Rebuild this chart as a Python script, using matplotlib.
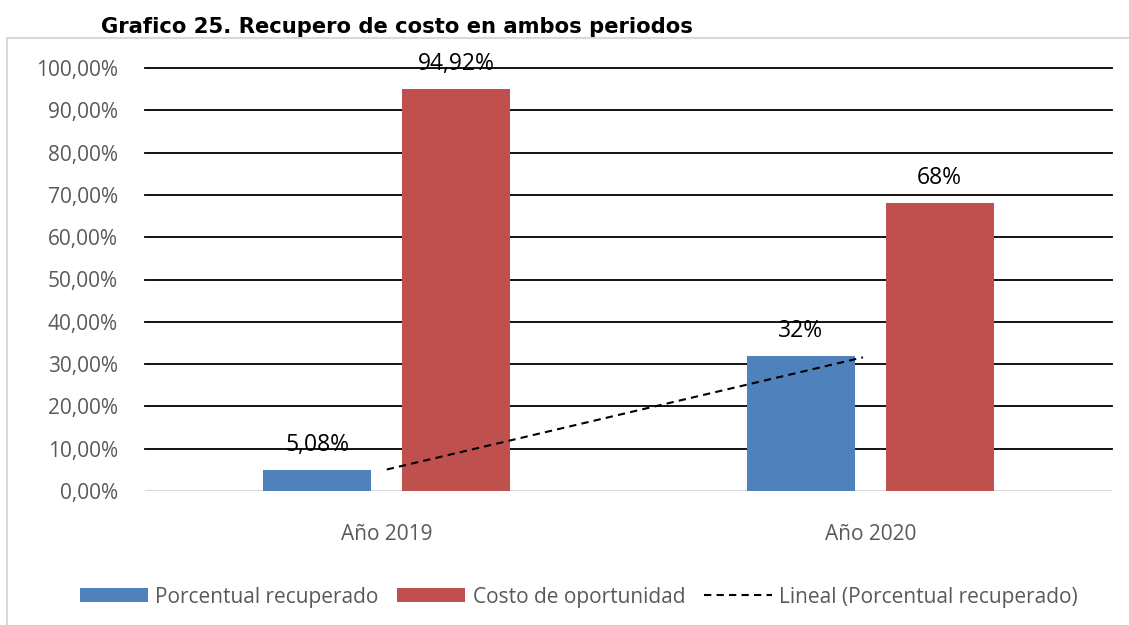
import numpy as np
import matplotlib
matplotlib.use("Agg")
import matplotlib.pyplot as plt
from matplotlib.patches import Rectangle, Patch
from matplotlib.lines import Line2D

# data
categorias = ["Año 2019", "Año 2020"]
recuperado = [5.08, 32.0]
oportunidad = [94.92, 68.0]
etiq_recuperado = ["5,08%", "32%"]
etiq_oportunidad = ["94,92%", "68%"]

AZUL = "#4f81bd"
ROJO = "#c0504d"
GRIS = "#595959"

plt.rcParams['font.family'] = ['Open Sans', 'DejaVu Sans']

fig = plt.figure(figsize=(11.29, 6.25), dpi=100)
ax = fig.add_axes([145 / 1129, 1 - 491 / 625, (1112 - 145) / 1129, (491 - 68) / 625])

# chart area border
fig.patches.append(Rectangle((7 / 1129, -0.05), 1.2, 1 - 38 / 625 + 0.05,
                             transform=fig.transFigure, fill=False,
                             edgecolor="#d9d9d9", linewidth=1.5, zorder=0))

x = np.arange(len(categorias))
ancho = 0.223
desp = 0.1435

b1 = ax.bar(x - desp, recuperado, ancho, color=AZUL, zorder=3)
b2 = ax.bar(x + desp, oportunidad, ancho, color=ROJO, zorder=3)

for barras, etiquetas in ((b1, etiq_recuperado), (b2, etiq_oportunidad)):
    for rect, txt in zip(barras, etiquetas):
        ax.annotate(txt, (rect.get_x() + rect.get_width() / 2, rect.get_height()),
                    xytext=(0, 25), textcoords="offset pixels", ha="center", va="center",
                    fontsize=16.5, color="black", zorder=5, annotation_clip=False)

# linear trendline through porcentual recuperado
coef = np.polyfit(x, recuperado, 1)
xt = np.array([x[0], x[-1] - 0.015])
ax.plot(xt, np.polyval(coef, xt), color="black", linestyle=(0, (3.5, 2.5)),
        linewidth=1.5, zorder=4)

ax.set_xlim(-0.5, 1.5)
ax.set_ylim(0, 100)
ax.set_yticks(np.arange(0, 101, 10))
ax.set_yticklabels([f"{v},00%" for v in range(0, 101, 10)])
ax.set_xticks(x)
ax.set_xticklabels(categorias)
ax.tick_params(axis="both", length=0, labelsize=15, colors=GRIS)
ax.tick_params(axis="y", pad=19.5)
ax.tick_params(axis="x", pad=24)

for v in range(10, 101, 10):
    ax.axhline(v, color="black", linewidth=1.3, zorder=1, clip_on=False)
ax.axhline(0, color="#d9d9d9", linewidth=1.5, zorder=2)

for s in ax.spines.values():
    s.set_visible(False)

fig.text(397 / 1129, 1 - 27 / 625, "Grafico 25. Recupero de costo en ambos periodos",
         ha="center", va="center", fontsize=15.2, fontweight="bold",
         family="DejaVu Sans", color="black")

handles = [Patch(facecolor=AZUL), Patch(facecolor=ROJO),
           Line2D([0], [0], color="black", linestyle=(0, (3.5, 2.5)), linewidth=1.5)]
labels = ["Porcentual recuperado", "Costo de oportunidad", "Lineal (Porcentual recuperado)"]
leg = fig.legend(handles, labels, loc="center", bbox_to_anchor=(579 / 1129, 1 - 597 / 625),
                 ncol=3, frameon=False, fontsize=15, handlelength=3.27, handleheight=0.67,
                 handletextpad=0.35, columnspacing=0.9, labelcolor=GRIS)

fig.savefig("out.png", dpi=100)
